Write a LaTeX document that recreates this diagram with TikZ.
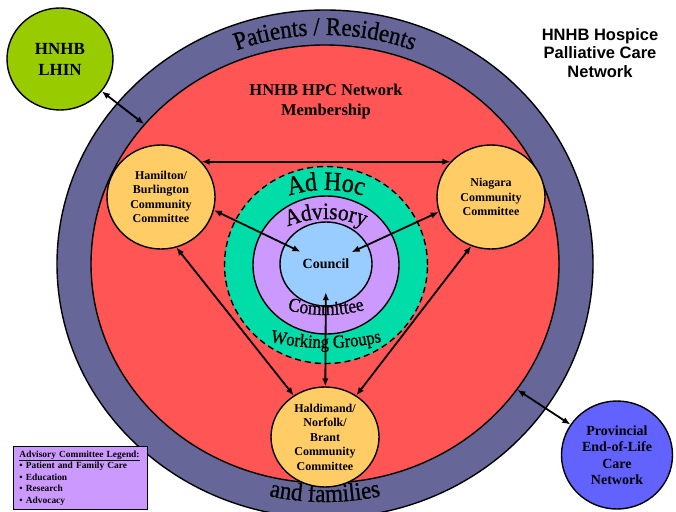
\documentclass[tikz,border=0pt]{standalone}
\usepackage{fontspec}
\setmainfont{Liberation Serif}
\newfontfamily\arialfont{Liberation Sans}
\newfontfamily\wordfont[FakeStretch=0.9,FakeBold=0.8]{Liberation Serif}
\usetikzlibrary{shapes.geometric,decorations.text,arrows.meta}

\definecolor{ringblue}{HTML}{666699}
\definecolor{netred}{HTML}{FF5555}
\definecolor{adhocgreen}{HTML}{00DDA8}
\definecolor{advpurple}{HTML}{CC99FF}
\definecolor{councilblue}{HTML}{99CCFF}
\definecolor{commorange}{HTML}{FFCC66}
\definecolor{lhingreen}{HTML}{99CC00}
\definecolor{provblue}{HTML}{6262FF}

\begin{document}
\begin{tikzpicture}[x=1pt,y=1pt,
  outline/.style={draw=black,line width=1.4pt},
  disc/.style={outline,ellipse,inner sep=0pt},
  committee/.style={disc,fill=commorange,minimum width=108pt,minimum height=104pt,
    align=center,font=\bfseries\fontsize{12}{14.5}\selectfont},
  link/.style={{Latex[length=8pt,width=6.5pt]}-{Latex[length=8pt,width=6.5pt]},line width=1.8pt},
  arctext/.style 2 args={decorate,decoration={text along path,text align=center,
    text={|\wordfont\fontsize{#1}{#1}\selectfont|#2}}}]
\useasboundingbox (0,0) rectangle (676,-511);

% outer rings
\node[disc,fill=ringblue,minimum width=536pt,minimum height=508pt] (patients) at (325,-264) {};
\node[disc,fill=netred,minimum width=468pt,minimum height=438pt] (network) at (325,-264) {};
\path[arctext={25.5}{Patients / Residents}]
  (81,-264) arc[start angle=180,end angle=0,x radius=244,y radius=229];
\path[arctext={25.5}{and families}]
  (73,-264) arc[start angle=180,end angle=360,x radius=252,y radius=238];
\node[font=\bfseries\fontsize{16.5}{20}\selectfont,align=center] (netlabel) at (326,-102)
  {HNHB HPC Network\\Membership};

% inner circles
\node[disc,dash pattern=on 6pt off 4pt,fill=adhocgreen,minimum width=203pt,minimum height=197pt] (adhoc) at (326,-265) {};
\node[disc,fill=advpurple,minimum width=146pt,minimum height=138pt] (advisory) at (326,-265) {};
\node[disc,fill=councilblue,minimum width=92pt,minimum height=84pt] (councildisc) at (326,-264) {};
\path[arctext={26.5}{Ad Hoc}]
  (206,-310) arc[start angle=180,end angle=0,radius=120];
\path[arctext={23.5}{Advisory}]
  (226,-319) arc[start angle=180,end angle=0,radius=100];
\path[arctext={19.5}{Committee}]
  (176,-165) arc[start angle=180,end angle=360,radius=150];
\path[arctext={18.5}{Working Groups}]
  (76,-98) arc[start angle=180,end angle=360,radius=250];
\node[circle,minimum size=56pt,inner sep=0pt,font=\bfseries\fontsize{14}{14}\selectfont] (council) at (326,-264) {Council};

% committees
\node[committee] (ham) at (161,-197) {Hamilton/\\Burlington\\Community\\Committee};
\node[committee] (nia) at (491,-197) {Niagara\\Community\\Committee};
\node[committee,minimum height=100pt] (hal) at (325,-437) {Haldimand/\\Norfolk/\\Brant\\Community\\Committee};

% outside
\node[disc,fill=lhingreen,minimum width=106pt,minimum height=102pt,align=center,
  font=\bfseries\fontsize{17}{21}\selectfont] (lhin) at (60,-59) {HNHB\\LHIN};
\node[disc,fill=provblue,minimum width=111pt,minimum height=108pt,align=center,
  font=\bfseries\fontsize{14}{16.5}\selectfont] (prov) at (617,-455) {Provincial\\End-of-Life\\Care\\Network};
\node[font=\arialfont\bfseries\fontsize{16.5}{18.5}\selectfont,align=center] (title) at (600,-53)
  {HNHB Hospice\\Palliative Care\\Network};
\node[draw=black,line width=1pt,fill=advpurple,anchor=north west,align=left,text width=122pt,
  inner xsep=6pt,inner ysep=4pt,font=\bfseries\fontsize{9.4}{11.5}\selectfont] (legend) at (13,-446)
  {\underline{Advisory Committee Legend:}\\• Patient and Family Care\\• Education\\• Research\\• Advocacy};

% links
\draw[link] (lhin) -- (network);
\draw[link] (prov) -- (network);
\draw[link] (ham.41) -- (nia.139);
\draw[link] (ham.-14) -- (council);
\draw[link] (nia.196) -- (council);
\draw[link] (hal) -- (council);
\draw[link] (ham.-73) -- (hal.127);
\draw[link] (nia.248) -- (hal.53);
\end{tikzpicture}
\end{document}
